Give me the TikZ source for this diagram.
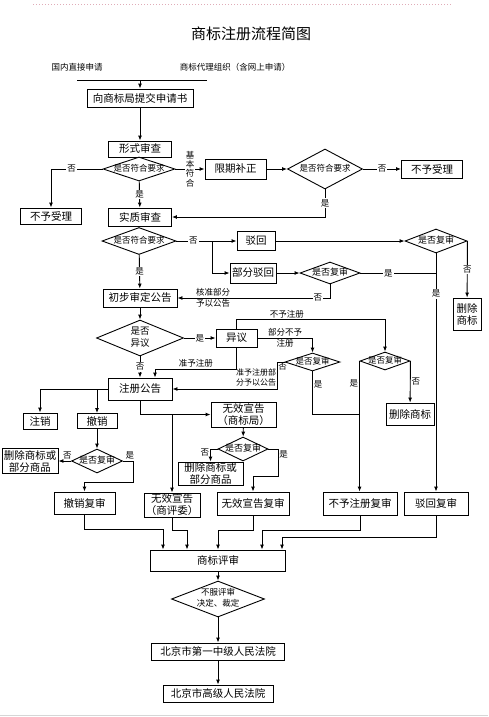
\documentclass[tikz,border=0pt]{standalone}
\usepackage{fontspec}
\setmainfont{Noto Sans CJK SC}
\usepackage{tikz}
\usetikzlibrary{shapes,arrows.meta}
\definecolor{rulepink}{RGB}{224,172,184}
\definecolor{pagegray}{RGB}{214,214,214}
\newcommand{\dtext}[1]{\makebox[0pt]{\begin{tabular}{@{}c@{}}#1\end{tabular}}}

\begin{document}
\begin{tikzpicture}[x=1pt, y=-1pt, every node/.style={font=\fontsize{10.5}{12}\selectfont}]
    \tikzstyle{box} = [rectangle, draw=black, line width=0.9pt, inner sep=0pt, align=center]
    \tikzstyle{decision} = [diamond, draw=black, line width=0.9pt, inner sep=0pt, font=\fontsize{9}{11}\selectfont]
    \tikzstyle{lab} = [fill=white, inner sep=1pt, align=center, font=\fontsize{8.5}{9.5}\selectfont]
    \tikzstyle{note} = [inner sep=0pt, align=center, font=\fontsize{8.5}{11}\selectfont]
    \tikzstyle{conn} = [line width=0.9pt]
    \tikzstyle{arr} = [-{Latex[length=5pt, width=4pt]}, line width=0.9pt]

    \useasboundingbox (0,0) rectangle (488,717);
    \draw [rulepink, dotted, line width=1pt] (33,5) -- (452,5);
    \draw [pagegray, line width=0.8pt] (0,715) -- (488,715);

    \node (title) at (251,34) [font=\fontsize{15}{18}\selectfont] {商标注册流程简图};
    \node (srcA) at (77,67) [font=\fontsize{8.5}{10}\selectfont] {国内直接申请};
    \node (srcB) at (235,67) [font=\fontsize{8.5}{10}\selectfont] {商标代理组织（含网上申请）};

    \node (submit) [box, minimum width=106pt, minimum height=18pt] at (140,98) {向商标局提交申请书};
    \node (formal) [box, minimum width=63pt, minimum height=16pt] at (140,149) {形式审查};
    \node (d1) [decision, minimum width=72pt, minimum height=24pt, font=\fontsize{8.5}{10}\selectfont] at (139,169) {\dtext{是否符合要求}};
    \node (reject1) [box, minimum width=61pt, minimum height=16pt] at (51,216) {不予受理};
    \node (correct) [box, minimum width=61pt, minimum height=20pt] at (235.5,169) {限期补正};
    \node (d2) [decision, minimum width=75pt, minimum height=40pt, font=\fontsize{8.5}{10}\selectfont] at (325,169) {\dtext{是否符合要求}};
    \node (reject2) [box, minimum width=61pt, minimum height=18pt] at (432,169) {不予受理};
    \node (substantive) [box, minimum width=63pt, minimum height=18pt] at (140,217) {实质审查};
    \node (d3) [decision, minimum width=74pt, minimum height=27pt, font=\fontsize{8.5}{10}\selectfont] at (139,241) {\dtext{是否符合要求}};
    \node (reject3) [box, minimum width=38pt, minimum height=19pt] at (256,241) {驳回};
    \node (partial) [box, minimum width=46pt, minimum height=20pt] at (253,273) {部分驳回};
    \node (rev1) [decision, minimum width=62pt, minimum height=24pt] at (436,241) {\dtext{是否复审}};
    \node (delete1) [box, minimum width=28pt, minimum height=32pt] at (467,314) {删除\\商标};
    \node (d4) [decision, minimum width=60pt, minimum height=22pt] at (330,273) {\dtext{是否复审}};
    \node (prelim) [box, minimum width=74pt, minimum height=18pt] at (140,298) {初步审定公告};
    \node (d5) [decision, minimum width=87pt, minimum height=36pt, font=\fontsize{9.5}{12}\selectfont] at (140,338) {\dtext{是否\\异议}};
    \node (objection) [box, minimum width=41pt, minimum height=18pt] at (236.5,338) {异议};
    \node (d6) [decision, minimum width=55pt, minimum height=18pt, font=\fontsize{8.5}{10}\selectfont] at (312.5,362) {\dtext{是否复审}};
    \node (d7) [decision, minimum width=50pt, minimum height=18pt, font=\fontsize{8.5}{10}\selectfont] at (385,361) {\dtext{是否复审}};
    \node (delete2) [box, minimum width=48pt, minimum height=22pt] at (410,414) {删除商标};
    \node (register) [box, minimum width=64pt, minimum height=22pt] at (140,389) {注册公告};
    \node (cancel) [box, minimum width=34pt, minimum height=16pt] at (40,421) {注销};
    \node (revoke) [box, minimum width=40pt, minimum height=15pt] at (97,421) {撤销};
    \node (invalidTM) [box, minimum width=65pt, minimum height=25pt] at (243.5,414.5) {无效宣告\\（商标局）};
    \node (d8) [decision, minimum width=51pt, minimum height=24pt] at (97,461) {\dtext{是否复审}};
    \node (delete3) [box, minimum width=56pt, minimum height=25pt] at (30,461) {删除商标或\\部分商品};
    \node (d9) [decision, minimum width=50pt, minimum height=24pt] at (243,449) {\dtext{是否复审}};
    \node (delete4) [box, minimum width=65pt, minimum height=23pt] at (210.5,473.5) {删除商标或\\部分商品};
    \node (revokeReview) [box, minimum width=61pt, minimum height=22pt] at (84.5,503) {撤销复审};
    \node (invalidRC) [box, minimum width=56pt, minimum height=24pt] at (172,505) {无效宣告\\（商评委）};
    \node (invalidReview) [box, minimum width=72pt, minimum height=23pt] at (253,503.5) {无效宣告复审};
    \node (noregReview) [box, minimum width=74pt, minimum height=23pt] at (360,503.5) {不予注册复审};
    \node (rejectReview) [box, minimum width=64pt, minimum height=23pt] at (436,503.5) {驳回复审};
    \node (review) [box, minimum width=135pt, minimum height=21pt] at (218,560.5) {商标评审};
    \node (d10) [decision, minimum width=93pt, minimum height=36pt, font=\fontsize{8.5}{11}\selectfont] at (218,599) {\dtext{不服评审\\决定、裁定}};
    \node (court1) [box, minimum width=133pt, minimum height=17pt] at (218,651.5) {北京市第一中级人民法院};
    \node (court2) [box, minimum width=110pt, minimum height=17pt] at (218,693.5) {北京市高级人民法院};

    \node (noteA) [note] at (213,298) {核准部分\\予以公告};
    \node (noteB) [note] at (285,338) {部分不予\\注册};
    \node (noteC) [note, font=\fontsize{8}{9.5}\selectfont] at (256,377.5) {准予注册部\\分予以公告};

    \coordinate (barL) at (77,80);
    \coordinate (barR) at (207,80);
    \coordinate (split) at (212,241);
    \coordinate (bend) at (277,362);
    \coordinate (joinB) at (360,414);
    \coordinate (regIn) at (155,369);
    \coordinate (tapRC) at (172,414.5);
    \coordinate (rvA) at (133,482);
    \coordinate (ivA) at (278,476);
    \coordinate (mA) at (163,529);
    \coordinate (mB) at (187,530);
    \coordinate (mC) at (218,530);
    \coordinate (mD) at (262,530);
    \coordinate (mE) at (282,537);

    \draw [conn] (barL) -- (barR);
    \draw [arr] (barL -| submit) -- (submit);
    \draw [arr] (submit) -- (formal);
    \draw [arr] (d1.west) -- node[lab, pos=0.6]{否} (d1.west -| reject1) -- (reject1);
    \draw [arr] (d1) -- node[lab]{是} (substantive);
    \draw [arr] (d1) -- node[lab, font=\fontsize{8.5}{9.3}\selectfont]{基\\本\\符\\合} (correct);
    \draw [arr] (correct) -- (d2);
    \draw [arr] (d2) -- node[lab]{否} (reject2);
    \draw [arr] (d2) -- node[lab]{是} (d2 |- substantive) -- (substantive);
    \draw [arr] (d3) -- node[lab, pos=0.28]{否} (reject3);
    \draw [arr] (split) |- (partial);
    \draw [arr] (d3) -- node[lab]{是} (prelim);
    \draw [arr] (reject3) -- (rev1);
    \draw [arr] (rev1.east) -- node[lab]{否} (delete1);
    \draw [arr] (rev1) -- node[lab, pos=0.17]{是} (rejectReview);
    \draw [arr] (partial) -- (d4);
    \draw [conn] (d4) -- node[lab, pos=0.37]{是} (d4.east -| rev1);
    \draw [arr] (d4) |- node[lab, pos=0.54]{否} (prelim);
    \draw [arr] (prelim) -- (d5);
    \draw [arr] (d5) -- node[lab]{是} (objection);
    \draw [arr] (d5) -- node[lab]{否} (register);
    \draw [arr] (objection.north) -- ++(0,-9) -| node[note, pos=0.17, above=1pt]{不予注册} (d7);
    \draw [arr] (objection) |- node[note, pos=0.75, above=1pt]{准予注册} (regIn) -- (regIn |- register.north);
    \draw [arr] (objection) -| (d6);
    \draw [arr] (d6) -- (bend) |- node[note, pos=0.08, right=1pt]{否} (register);
    \draw [conn] (d6) |- node[note, pos=0.15, right=1pt]{是} (joinB);
    \draw [arr] (d7.west) -- node[note, pos=0.17, left=1pt]{是} (d7.west |- noregReview.north);
    \draw [arr] (d7.east) -- node[note, right=1pt]{否} (delete2);
    \draw [arr] (register) -| (cancel);
    \draw [arr] (register.west -| revoke) -- (revoke);
    \draw [arr] (register) |- (invalidTM);
    \draw [arr] (tapRC) -- (invalidRC);
    \draw [arr] (revoke) -- (d8);
    \draw [arr] (d8) -- node[note, pos=0.3, above=1pt]{否} (delete3);
    \draw [arr] (d8) -| node[note, pos=0.35, above=1pt]{是} (rvA) -| (revokeReview);
    \draw [arr] (invalidTM) -- (d9);
    \draw [arr] (d9) -| node[note, pos=0.65, left=1pt]{否} (delete4);
    \draw [arr] (d9) -| node[note, pos=0.6, right=1pt]{是} (ivA) -| (invalidReview);
    \draw [arr] (revokeReview) |- (mA) -- (mA |- review.north);
    \draw [arr] (invalidRC) |- (mB) -- (mB |- review.north);
    \draw [arr] (invalidReview) |- (mC) -- (mC |- review.north);
    \draw [arr] (noregReview) |- (mD) -- (mD |- review.north);
    \draw [arr] (rejectReview) |- (mE) -- (mE |- review.north);
    \draw [arr] (review) -- (d10);
    \draw [arr] (d10) -- (court1);
    \draw [arr] (court1) -- (court2);
\end{tikzpicture}
\end{document}
